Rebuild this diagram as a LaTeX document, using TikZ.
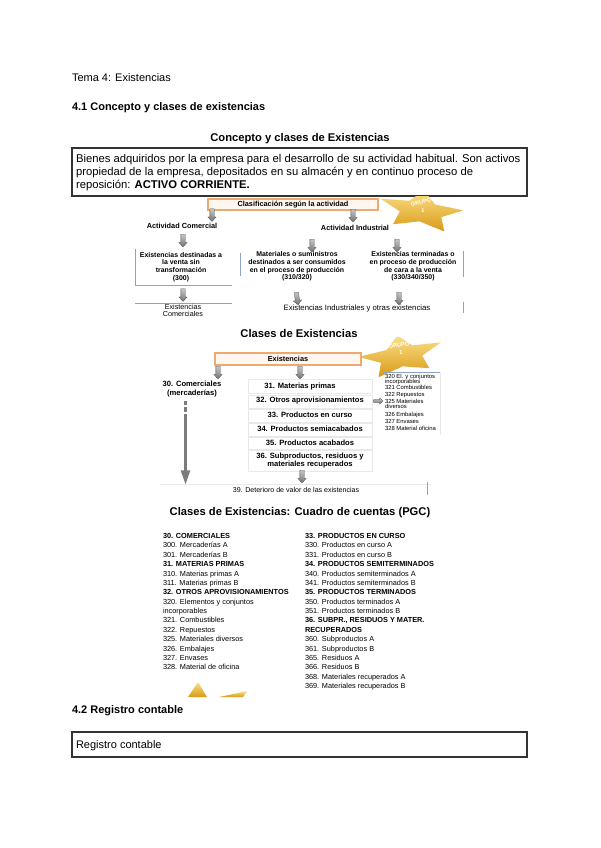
\documentclass[tikz,border=0pt]{standalone}
\usepackage{fontspec}
\setmainfont{Liberation Sans}
\usetikzlibrary{shapes.arrows,arrows.meta}
\definecolor{boxor}{HTML}{EDAA70}
\definecolor{boxfill}{HTML}{FFF7EF}
\definecolor{bluel}{HTML}{8DA3C6}
\definecolor{goldA}{HTML}{FBE089}
\definecolor{goldB}{HTML}{D99A17}
\definecolor{arrg}{HTML}{7C7C7C}
\definecolor{frm}{HTML}{333333}
\newcommand\fsz[2]{\fontsize{#1}{#2}\selectfont}
\begin{document}
\begin{tikzpicture}[x=0.75pt,y=-0.75pt,
  every node/.style={inner sep=0pt, outer sep=0pt},
  page/.style={font=\fsz{8.25pt}{9.5pt}, anchor=base west},
  boxt/.style={font=\fsz{8.45pt}{9.5pt}, anchor=base west},
  head/.style={font=\fsz{8.25pt}{9.5pt}\bfseries, anchor=base west},
  ttl/.style={font=\fsz{8.4pt}{9.5pt}\bfseries, anchor=base},
  dgb/.style={font=\fsz{5.5pt}{5.9pt}\bfseries, align=center},
  dgi/.style={font=\fsz{5.7pt}{6.2pt}\bfseries, align=center},
  dgs/.style={font=\fsz{5.2pt}{5.8pt}\bfseries, align=center},
  dgr/.style={font=\fsz{5.4pt}{5.8pt}, align=center},
  pgc/.style={font=\fsz{5.5pt}{6pt}, anchor=base west},
  pgcb/.style={font=\fsz{5.5pt}{6pt}\bfseries, anchor=base west},
  tny/.style={font=\fsz{4.4pt}{4.5pt}, anchor=base west},
  garr/.style={single arrow, shape border rotate=270, top color=gray!45, bottom color=gray!90!black, draw=gray!60!black, line width=0.2pt, minimum height=9.5pt, inner sep=1.5pt, single arrow head extend=1.5pt, single arrow tip angle=85},
  frame/.style={draw=frm, line width=1.1pt},
  orbox/.style={draw=boxor, fill=boxfill, line width=0.8pt},
  bline/.style={draw=bluel, line width=0.6pt},
  gline/.style={draw=gray!17, line width=0.5pt},
  gold/.style={top color=goldA, bottom color=goldB},
  stxt/.style={font=\fsz{4.2pt}{4.5pt}\bfseries, text=white}
]
\useasboundingbox (0,0) rectangle (600,848);
\fill[white] (0,0) rectangle (600,848);

% ---------- header ----------
\node[page] (tema) at (72,82) {Tema 4: Existencias};
\node[head] (h41) at (72,111) {4.1 Concepto y clases de existencias};
\node[ttl] (t1) at (300,142) {Concepto y clases de Existencias};
\draw[frame] (72,148) rectangle (527,196);
\node[boxt] (d1) at (76,163) {Bienes adquiridos por la empresa para el desarrollo de su actividad habitual. Son activos};
\node[boxt] (d2) at (76,176) {propiedad de la empresa, depositados en su almacén y en continuo proceso de};
\node[boxt] (d3) at (76,189) {reposición: \textbf{ACTIVO CORRIENTE.}};

% ---------- diagram 1 ----------
\draw[orbox] (208,199) rectangle (378,210);
\node[dgb] (clas) at (293,204.5) {Clasificación según la actividad};
\begin{scope}
  \clip (360,197) rectangle (480,240);
  \begin{scope}[shift={(421,211)}, rotate=-8, xscale=44, yscale=21]
    \shade[gold] (-90:1) -- (-54:0.5) -- (-18:1) -- (18:0.5) -- (54:1) -- (90:0.5) -- (126:1) -- (162:0.5) -- (198:1) -- (234:0.5) -- cycle;
  \end{scope}
\end{scope}
\node[stxt, rotate=12] (g1) at (421,202) {GRUPO};
\node[stxt] (g1n) at (423,211) {1};

\node[garr] (a1) at (212,214) {};
\node[garr] (a2) at (353,214.5) {};
\node[dgb] (acom) at (182,226) {Actividad Comercial};
\node[dgb] (aind) at (355,228) {Actividad Industrial};
\node[garr] (a3) at (183,239.5) {};
\node[garr] (a4) at (312,244.5) {};
\node[garr] (a5) at (397,244.5) {};

\draw[bline] (135,249) -- (135,285) -- (232,285);
\draw[bline] (240,253) -- (240,276);
\draw[bline] (463,251) -- (463,277);
\node[dgs] (bx1) at (181,267) {Existencias destinadas a\\la venta sin\\transformación\\(300)};
\node[dgs] (bx2) at (297,266.5) {Materiales o suministros\\destinados a ser consumidos\\en el proceso de producción\\(310/320)};
\node[dgs] (bx3) at (413,266.5) {Existencias terminadas o\\en proceso de producción\\de cara a la venta\\(330/340/350)};

\node[garr] (a6) at (183,294) {};
\node[garr, rotate=8] (a7) at (297,297.5) {};
\node[garr] (a8) at (399,297.5) {};
\draw[bline] (135,303) -- (232,303);
\draw[bline] (463,302) -- (463,313);
\node[dgr] (ecom) at (183,310.5) {Existencias\\Comerciales};
\node[font=\fsz{5.8pt}{6pt}] (eind) at (357,308.5) {Existencias Industriales y otras existencias};

% ---------- diagram 2 ----------
\node[ttl] (t2) at (299,337) {Clases de Existencias};
\draw[orbox] (215,353) rectangle (361,365);
\node[dgb] (exis) at (288,359) {Existencias};
\begin{scope}
  \clip (340,337) rectangle (460,385);
  \begin{scope}[shift={(401,356)}, rotate=10, xscale=44, yscale=21]
    \shade[gold] (-90:1) -- (-54:0.5) -- (-18:1) -- (18:0.5) -- (54:1) -- (90:0.5) -- (126:1) -- (162:0.5) -- (198:1) -- (234:0.5) -- cycle;
  \end{scope}
\end{scope}
\node[stxt, rotate=8] (g2) at (399,345) {GRUPO};
\node[stxt] (g2n) at (401,353) {1};

\node[garr] (b1) at (218,371.5) {};
\node[garr] (b2) at (300,371.5) {};

\node[dgi] (c30) at (192,389) {30. Comerciales\\(mercaderías)};

\draw[gline] (248,379) rectangle (372,393);
\draw[gline] (248,395) rectangle (372,408);
\draw[gline] (248,409) rectangle (372,422);
\draw[gline] (248,423) rectangle (372,436);
\draw[gline] (248,437) rectangle (372,449);
\draw[gline] (248,450) rectangle (372,471);
\node[dgi] (c31) at (300,387) {31. Materias primas};
\node[dgi] (c32) at (310,401) {32. Otros aprovisionamientos};
\node[dgi] (c33) at (310,415) {33. Productos en curso};
\node[dgi] (c34) at (310,428.5) {34. Productos semiacabados};
\node[dgi] (c35) at (310,442.5) {35. Productos acabados};
\node[dgi] (c36) at (310,460.5) {36. Subproductos, residuos y\\materiales recuperados};

\node[garr, shape border rotate=0, minimum height=7pt, inner sep=1.1pt, single arrow head extend=1.1pt] (b4) at (377.5,401) {};

\draw[bline] (383,372) -- (440,372);
\draw[gline] (440,372) -- (440,435);
\node[tny] (s1) at (385,378.5) {320 El. y conjuntos};
\node[tny] (s2) at (385,383.5) {incorporables};
\node[tny] (s3) at (385,389.5) {321 Combustibles};
\node[tny] (s4) at (385,396.5) {322 Repuestos};
\node[tny] (s5) at (385,403.5) {325 Materiales};
\node[tny] (s6) at (385,408.5) {diversos};
\node[tny] (s7) at (385,416.5) {326 Embalajes};
\node[tny] (s8) at (385,423.5) {327 Envases};
\node[tny] (s9) at (385,430.5) {328 Material oficina};

% long arrow
\coordinate (la0) at (185.5,401);
\coordinate (la1) at (185.5,418);
\coordinate (la2) at (185.5,485);
\draw[arrg, line width=2.4pt, dash pattern=on 3.2pt off 1.6pt] (la0) -- (la1);
\draw[arrg, line width=2.4pt, -{Triangle[width=6.5pt,length=11pt]}] (la1) -- (la2);

\node[garr] (b3) at (302,475.5) {};
\draw[gline] (160,484) -- (430,484);
\draw[bline] (427,482) -- (427,495);
\node[font=\fsz{5.3pt}{6pt}] (c39) at (296,490) {39. Deterioro de valor de las existencias};

% ---------- PGC ----------
\node[ttl] (t3) at (300,515) {Clases de Existencias: Cuadro de cuentas (PGC)};
\foreach \s/\t [count=\i from 0] in {pgcb/{30. COMERCIALES}, pgc/{300. Mercaderías A}, pgc/{301. Mercaderías B}, pgcb/{31. MATERIAS PRIMAS}, pgc/{310. Materias primas A}, pgc/{311. Materias primas B}, pgcb/{32. OTROS APROVISIONAMIENTOS}, pgc/{320. Elementos y conjuntos}, pgc/{incorporables}, pgc/{321. Combustibles}, pgc/{322. Repuestos}, pgc/{325. Materiales diversos}, pgc/{326. Embalajes}, pgc/{327. Envases}, pgc/{328. Material de oficina}}
  \node[\s] (pl\i) at (163,{538.6+9.375*\i}) {\t};
\foreach \s/\t [count=\i from 0] in {pgcb/{33. PRODUCTOS EN CURSO}, pgc/{330. Productos en curso A}, pgc/{331. Productos en curso B}, pgcb/{34. PRODUCTOS SEMITERMINADOS}, pgc/{340. Productos semiterminados A}, pgc/{341. Productos semiterminados B}, pgcb/{35. PRODUCTOS TERMINADOS}, pgc/{350. Productos terminados A}, pgc/{351. Productos terminados B}, pgcb/{36. SUBPR., RESIDUOS Y MATER.}, pgcb/{RECUPERADOS}, pgc/{360. Subproductos A}, pgc/{361. Subproductos B}, pgc/{365. Residuos A}, pgc/{366. Residuos B}, pgc/{368. Materiales recuperados A}, pgc/{369. Materiales recuperados B}}
  \node[\s] (pr\i) at (305,{538.6+9.375*\i}) {\t};

% partial star
\shade[gold] (188,697) -- (198,682) -- (207,697) -- cycle;
\shade[gold] (219,697) -- (247,691) -- (243,697) -- cycle;

% ---------- 4.2 ----------
\node[head] (h42) at (72,713) {4.2 Registro contable};
\draw[frame] (72,732) rectangle (527,757);
\node[page] (reg) at (76,748) {Registro contable};
\end{tikzpicture}
\end{document}
